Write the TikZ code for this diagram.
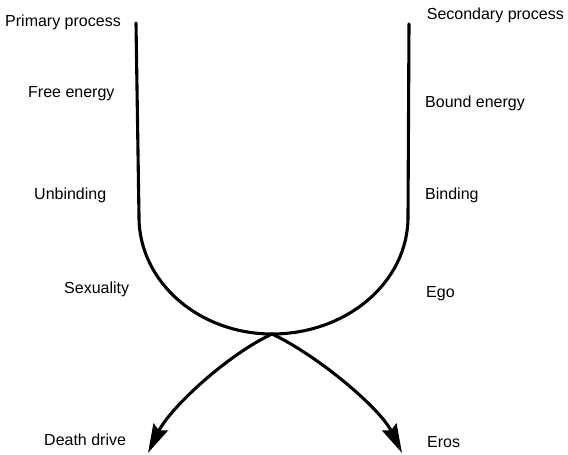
\documentclass[tikz,border=0pt]{standalone}
\usepackage{fontspec}
\setmainfont{Liberation Sans}
\usetikzlibrary{arrows.meta}

\tikzset{
  label/.style={anchor=base west, inner sep=0pt, font=\fontsize{16}{18}\selectfont},
  branch/.style={line width=3.1pt, line cap=round, line join=round},
  drive/.style={branch, -{Stealth[length=29pt, width=16pt, inset=4pt]}}
}

\begin{document}
\begin{tikzpicture}[x=1pt, y=1pt]
  \useasboundingbox (0,0) rectangle (568,455);

  % key points of the two branches
  \coordinate (ltop)   at (136,432);
  \coordinate (lbend)  at (139,238);
  \coordinate (rtop)   at (409,431);
  \coordinate (rbend)  at (408,238);
  \coordinate (meet)   at (272,121);
  \coordinate (dtip)   at (148,2);
  \coordinate (etip)   at (402,2);

  % the U: two vertical strokes bending to a common point
  \draw[branch] (ltop) -- (lbend) .. controls (139,173) and (199,121) .. (meet);
  \draw[branch] (rtop) -- (rbend) .. controls (408,173) and (347,121) .. (meet);

  % the two outgoing drives
  \draw[drive] (meet) .. controls (227,100) and (170,47) .. (dtip);
  \draw[drive] (meet) .. controls (317,100) and (380,47) .. (etip);

  % left-hand labels
  \node[label] (pp)  at (5,428)   {Primary process};
  \node[label] (fe)  at (28,357)  {Free energy};
  \node[label] (ub)  at (34,255)  {Unbinding};
  \node[label] (sx)  at (64,161)  {Sexuality};
  \node[label] (dd)  at (44,9)    {Death drive};

  % right-hand labels
  \node[label, anchor=base east] (sp) at (564,435) {Secondary process};
  \node[label] (be)  at (425,347) {Bound energy};
  \node[label] (bi)  at (425,255) {Binding};
  \node[label] (eg)  at (426,157) {Ego};
  \node[label] (er)  at (427,7)   {Eros};
\end{tikzpicture}
\end{document}
